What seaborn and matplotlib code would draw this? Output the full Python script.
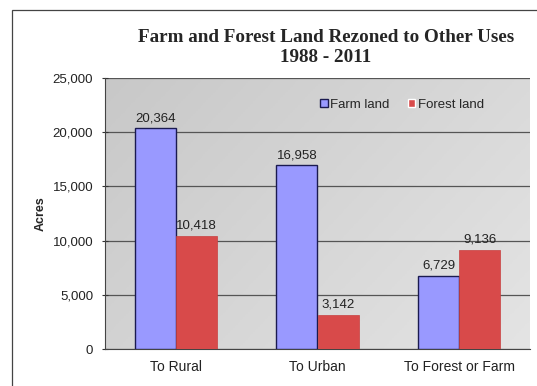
import numpy as np
import pandas as pd
import matplotlib
matplotlib.use("Agg")
import matplotlib.pyplot as plt
from matplotlib.patches import Rectangle
import seaborn as sns

categories = ["To Rural", "To Urban", "To Forest or Farm"]
farm_land = [20364, 16958, 6729]
forest_land = [10418, 3142, 9136]
series_names = ["Farm land", "Forest land"]
y_ticks = [0, 5000, 10000, 15000, 20000, 25000]

df = pd.DataFrame({
    "category": categories * 2,
    "series": [series_names[0]] * 3 + [series_names[1]] * 3,
    "acres": farm_land + forest_land,
})

sns.set_style("white")
plt.rcParams["font.family"] = ["Liberation Sans", "DejaVu Sans"]

W, H = 537, 386
fig = plt.figure(figsize=(W / 100, H / 100), dpi=100)
fig.patch.set_facecolor("white")

# outer chart frame
fig.patches.append(Rectangle((12 / W, -0.02), 1.1, 1 - 10 / H + 0.02,
                             transform=fig.transFigure, fill=False,
                             edgecolor="#444444", linewidth=0.9))

ax = fig.add_axes([105 / W, 37 / H, 425 / W, 271 / H])

# gray gradient plot area
grad = np.linspace(0, 1, 256).reshape(1, -1)
grad = grad + np.linspace(0, 0.6, 256).reshape(-1, 1)
ax.imshow(grad, extent=[0, 1, 0, 1], transform=ax.transAxes,
          cmap=matplotlib.colors.LinearSegmentedColormap.from_list(
              "bg", ["#c8c8c8", "#e4e4e4"]),
          aspect="auto", zorder=0)

palette = {"Farm land": "#9999ff", "Forest land": "#d84a4a"}
sns.barplot(data=df, x="category", y="acres", hue="series", palette=palette,
            width=0.58, saturation=1, ax=ax, zorder=3)

for cont, name in zip(ax.containers, series_names):
    for bar in cont:
        if name == "Farm land":
            bar.set_edgecolor("#1a1a50")
            bar.set_linewidth(1.0)
        else:
            bar.set_edgecolor("#c84040")
            bar.set_linewidth(0.5)
    ax.bar_label(cont, labels=[f"{int(v):,}" for v in cont.datavalues],
                 padding=3, fontsize=9.5, color="#222222")

ax.set_ylim(0, 25000)
ax.set_xlim(-0.5, 2.5)
ax.set_yticks(y_ticks)
ax.set_yticklabels([f"{t:,}" for t in y_ticks], fontsize=9.5, color="#222222")
ax.tick_params(axis="y", direction="inout", length=5, width=0.8,
               color="#333333", pad=6, left=True)
ax.tick_params(axis="x", length=0, labelsize=10, labelcolor="#222222", pad=8)
ax.yaxis.grid(True, color="#555555", linewidth=0.9, zorder=1)
ax.set_axisbelow(True)
for s in ["top", "right"]:
    ax.spines[s].set_visible(False)
ax.spines["left"].set_color("#444444")
ax.spines["bottom"].set_color("#444444")
ax.set_xlabel("")
ax.set_ylabel("Acres", fontsize=9, fontweight="bold", labelpad=4)

handles, labels = ax.get_legend_handles_labels()
handles[0].set_edgecolor("#1a1a50")
leg = ax.legend(handles, labels, loc="center right",
                bbox_to_anchor=(0.92, 0.90), frameon=False,
                ncol=2, fontsize=9.5, handlelength=0.55, handleheight=0.55,
                handletextpad=0.2, columnspacing=1.4)

serif = ["Liberation Serif", "DejaVu Serif"]
fig.text(0.607, 1 - 37 / H, "Farm and Forest Land Rezoned to Other Uses",
         ha="center", va="center", fontsize=13.8, fontweight="bold",
         family=serif)
fig.text(0.607, 1 - 57 / H, "1988 - 2011",
         ha="center", va="center", fontsize=13.8, fontweight="bold",
         family=serif)

fig.savefig("out.png", dpi=100)
